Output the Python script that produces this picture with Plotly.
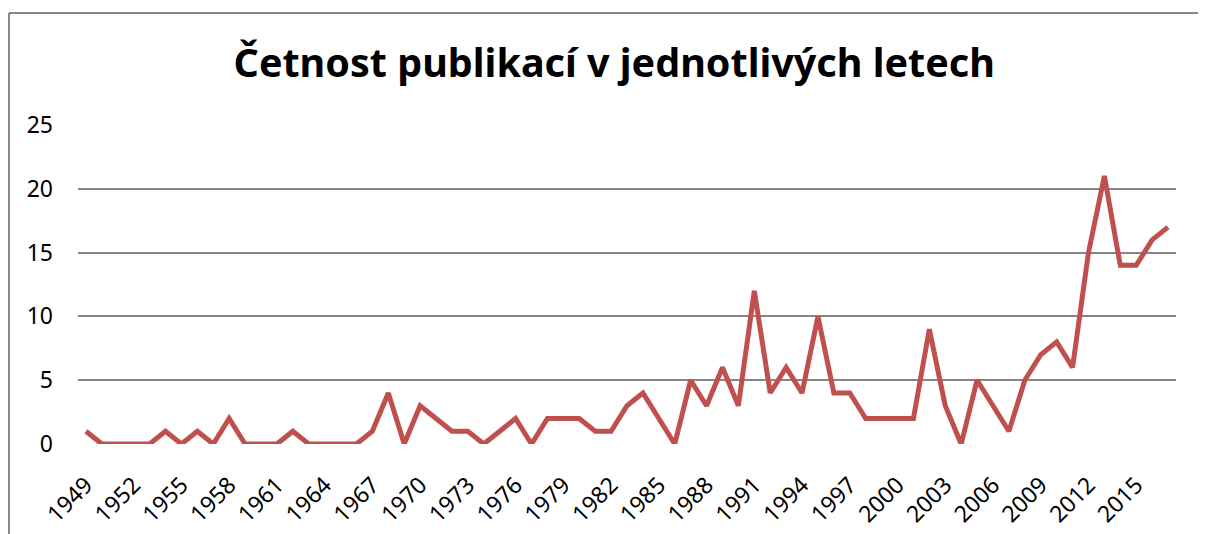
import plotly.graph_objects as go

# publication counts per year
years = list(range(1949, 2018))
counts = [
    1, 0, 0, 0, 0, 1, 0, 1, 0, 2,      # 1949-1958
    0, 0, 0, 1, 0, 0, 0, 0, 1, 4,      # 1959-1968
    0, 3, 2, 1, 1, 0, 1, 2, 0, 2,      # 1969-1978
    2, 2, 1, 1, 3, 4, 2, 0, 5, 3,      # 1979-1988
    6, 3, 12, 4, 6, 4, 10, 4, 4, 2,    # 1989-1998
    2, 2, 2, 9, 3, 0, 5, 3, 1, 5,      # 1999-2008
    7, 8, 6, 15, 21, 14, 14, 16, 17,   # 2009-2017
]
tick_years = list(range(1949, 2016, 3))
y_ticks = [0, 5, 10, 15, 20, 25]

title = "Četnost publikací v jednotlivých letech"
font = "Noto Sans"

# the page body has an 8px margin, so the figure is 8px smaller each way
W, H = 1198, 526
ML, MR, MT, MB = 70, 30, 117, 90
pw, ph = W - ML - MR, H - MT - MB

fig = go.Figure()
fig.add_trace(go.Scatter(
    x=years, y=counts, mode="lines",
    line=dict(color="#C0504D", width=5),
    showlegend=False,
))

frame_top = 1 + (MT - 5) / ph
frame_left = (1 - ML) / pw
fig.update_layout(
    width=W, height=H,
    margin=dict(l=ML, r=MR, t=MT, b=MB),
    plot_bgcolor="white", paper_bgcolor="white",
    title=dict(text="<b>" + title + "</b>", x=0.506, xanchor="center",
               y=0.895, yanchor="middle",
               font=dict(family=font, size=39.5, color="black")),
    font=dict(family=font, color="black"),
    # chart frame (top and left edges visible in the crop)
    shapes=[
        dict(type="line", xref="paper", yref="paper",
             x0=frame_left, x1=(W - ML) / pw, y0=frame_top, y1=frame_top,
             line=dict(color="#868686", width=2)),
        dict(type="line", xref="paper", yref="paper",
             x0=frame_left, x1=frame_left, y0=frame_top, y1=-MB / ph,
             line=dict(color="#868686", width=2)),
    ],
)

fig.update_xaxes(
    range=[1948.5, 2017.5], tickvals=tick_years,
    ticktext=[str(y) for y in tick_years],
    tickangle=-45, showgrid=False, zeroline=False, showline=False,
    tickfont=dict(size=23), ticks="", automargin=False, ticklabelstandoff=22,
)
fig.update_yaxes(
    range=[0, 25], tickvals=y_ticks, showgrid=True,
    gridcolor="#868686", gridwidth=1.5, zeroline=False, showline=False,
    tickfont=dict(size=23), ticks="", ticklabelstandoff=24, automargin=False,
)

fig.write_html("out.html")
